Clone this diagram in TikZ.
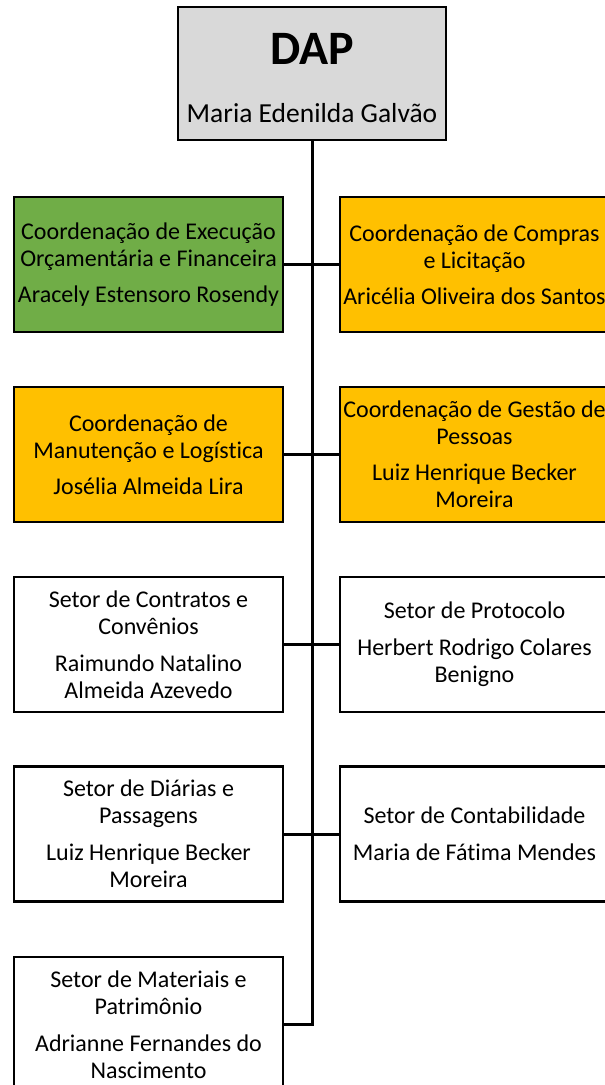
\documentclass[tikz,border=0pt]{standalone}
\usepackage{fontspec}
\setmainfont{Carlito}[Ligatures=NoCommon]
\definecolor{dapgray}{HTML}{D9D9D9}
\definecolor{coordgreen}{HTML}{70AD47}
\definecolor{coordgold}{HTML}{FFC000}
\begin{document}
\begin{tikzpicture}[x=1pt,y=-1pt,
  orgbox/.style={draw=black, line width=2.6pt, minimum width=269, minimum height=135,
    inner sep=0pt, align=center, font=\fontsize{24}{27}\selectfont},
  greenbox/.style={orgbox, fill=coordgreen},
  goldbox/.style={orgbox, fill=coordgold},
  whitebox/.style={orgbox, fill=white},
  link/.style={draw=black, line width=3pt}]
\useasboundingbox (0,0) rectangle (605,1085);
\clip (0,0) rectangle (605,1085);
\fill[white] (0,0) rectangle (605,1085);

\node[orgbox, fill=dapgray, minimum width=268, minimum height=133] (dap) at (312,73.5) {};
\node[font=\fontsize{48}{50}\selectfont\bfseries, inner sep=0pt] (daptitle) at (312,49) {DAP};
\node[font=\fontsize{27.5}{30}\selectfont, inner sep=0pt] (dapname) at (312,113) {Maria Edenilda Galvão};

\node[greenbox] (l1) at (148.5,264.5) {Coordenação de Execução\\Orçamentária e Financeira\\[9pt]Aracely Estensoro Rosendy};
\node[goldbox] (r1) at (474.5,264.5) {Coordenação de Compras\\e Licitação\\[9pt]Aricélia Oliveira dos Santos};

\node[goldbox] (l2) at (148.5,454.5) {Coordenação de\\Manutenção e Logística\\[9pt]Josélia Almeida Lira};
\node[goldbox] (r2) at (474.5,454.5) {Coordenação de Gestão de\\Pessoas\\[9pt]Luiz Henrique Becker\\Moreira};

\node[whitebox] (l3) at (148.5,644.5) {Setor de Contratos e\\Convênios\\[10pt]Raimundo Natalino\\Almeida Azevedo};
\node[whitebox] (r3) at (474.5,644.5) {Setor de Protocolo\\[10pt]Herbert Rodrigo Colares\\Benigno};

\node[whitebox] (l4) at (148.5,834) {Setor de Diárias e\\Passagens\\[10pt]Luiz Henrique Becker\\Moreira};
\node[whitebox] (r4) at (474.5,834) {Setor de Contabilidade\\[10pt]Maria de Fátima Mendes};

\node[whitebox] (l5) at (148.5,1024.5) {Setor de Materiais e\\Patrimônio\\[10pt]Adrianne Fernandes do\\Nascimento};

\draw[link] (dap.south) -- (dap.south |- l5.east) -- (l5.east);
\draw[link] (l1.east) -- (r1.west);
\draw[link] (l2.east) -- (r2.west);
\draw[link] (l3.east) -- (r3.west);
\draw[link] (l4.east) -- (r4.west);
\end{tikzpicture}
\end{document}
